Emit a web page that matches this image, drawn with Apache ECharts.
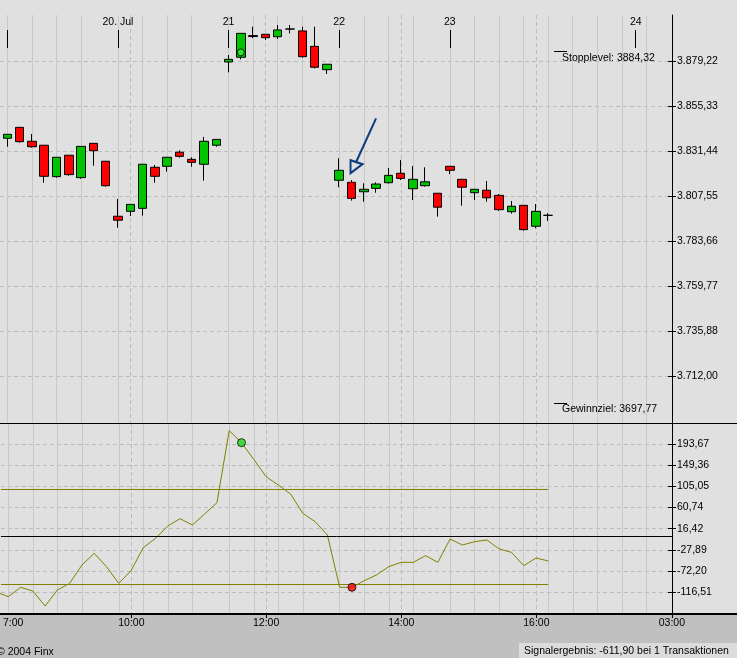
<!DOCTYPE html>
<html>
<head>
<meta charset="utf-8">
<script src="https://cdn.jsdelivr.net/npm/echarts@6/dist/echarts.min.js"></script>
<style>
html,body{margin:0;padding:0;background:#e0e0e0;}
#chart{width:737px;height:658px;}
</style>
</head>
<body>
<div id="chart"></div>
<script>
// ---- Candle slots (30-min bars, left to right) ----
const barSlots = [0,1,2,3,4,5,6,7,8,9,10,11,12,13,14,15,16,17,18,19,20,21,22,23,24,25,26,27,28,29,30,31,32,33,34,35,36,37,38,39,40,41,42,43,44];
const opens  = [3838.2,3844.0,3836.6,3834.5,3817.8,3829.2,3817.3,3835.5,3826.0,3796.8,3799.4,3801.0,3822.8,3823.3,3830.8,3827.0,3824.4,3834.5,3878.7,3881.2,3892.7,3893.4,3892.1,3896.2,3895.2,3887.0,3874.6,3815.9,3814.8,3809.8,3811.6,3814.6,3819.6,3811.4,3813.0,3809.0,3823.3,3816.4,3809.3,3810.6,3807.9,3799.2,3802.6,3791.5,3797.3];
const closes = [3840.3,3836.4,3833.7,3818.0,3828.1,3818.9,3833.9,3831.6,3813.0,3794.7,3803.1,3824.4,3818.0,3828.1,3828.6,3825.4,3836.6,3837.6,3880.1,3893.9,3892.2,3891.6,3895.7,3896.2,3881.5,3875.9,3877.5,3821.2,3806.3,3811.1,3813.9,3818.5,3816.9,3816.4,3815.1,3801.6,3821.2,3812.2,3811.1,3806.6,3800.3,3802.1,3789.7,3799.4,3797.3];
const lows   = [3833.7,3835.8,3833.2,3814.6,3817.3,3818.3,3816.7,3823.6,3812.5,3790.7,3796.9,3797.1,3814.6,3820.5,3827.9,3823.1,3815.7,3833.7,3873.2,3880.1,3891.3,3890.4,3890.9,3893.9,3881.0,3875.3,3872.3,3812.2,3805.1,3804.5,3809.3,3814.1,3816.0,3805.4,3812.5,3796.6,3819.2,3802.4,3805.4,3804.5,3799.6,3798.2,3789.1,3790.4,3794.3];
const highs  = [3840.3,3844.0,3840.5,3834.5,3828.1,3829.2,3833.9,3835.5,3826.0,3806.0,3803.1,3824.4,3824.0,3828.1,3831.8,3828.1,3838.9,3837.6,3882.4,3893.9,3897.4,3893.4,3898.3,3898.3,3897.4,3897.4,3877.5,3827.6,3816.0,3814.3,3814.8,3822.4,3826.7,3823.5,3822.8,3809.0,3823.3,3816.4,3811.1,3815.5,3808.6,3804.9,3802.6,3803.3,3798.4];

// ---- Indicator (lower panel) ----
const indSlots  = [-1,0,1,2,3,4,5,6,7,8,9,10,11,12,13,14,15,16,17,18,19,20,21,22,23,24,25,26,27,28,29,30,31,32,33,34,35,36,37,38,39,40,41,42,43,44];
const indValues = [-116,-125.6,-106.1,-113.8,-145.2,-111.7,-97.8,-59.4,-35.0,-62.9,-97.8,-71.3,-23.2,-3.6,22.2,37.5,24.3,47.3,71.0,221.6,196.5,161.6,125.3,107.9,89.1,48.7,31.2,3.3,-106.1,-106.1,-92.2,-80.3,-62.9,-53.8,-53.8,-39.9,-53.8,-5.0,-17.6,-10.6,-7.1,-25.9,-32.9,-60.8,-44.8,-51.0];
const indBands = [100, 0, -100];

// ---- Signals ----
const buySlot = 19, sellSlot = 28;
const buyPrice = 3883.8, sellPrice = 3813.0;
const buyInd = 196.5, sellInd = -106.1;

// ---- Levels ----
const stopLevel = 3884.32, stopLabel = 'Stopplevel: 3884,32';
const targetLevel = 3697.77, targetLabel = 'Gewinnziel: 3697,77';
const levelSlots = [44.48, 45.54];

// ---- Arrow annotation ----
const arrowFrom = [30.0, 3848.8], arrowTo = [28.35, 3825.2], arrowHead = [28.41, 3823.1];

// ---- Axes: ticks & labels ----
const xMin = -0.6, xMax = 54.08;
const dayTickSlots  = [0, 9, 18, 27, 36, 51.13];
const dayLabelSlots = [9, 18, 27, 36, 51.13];
const dayLabels     = ['20. Jul', '21', '22', '23', '24'];
const hourLineSlots = [0,2,4,6,9,11,13,15,18,20,22,24,27,29,31,33,36,38,40,42,44,46,48,50,52];
const twoHourSlots  = [10.03, 21.01, 32.02, 43.03, 54.08];
const timeLabelSlots = [0.4, 10.03, 21.01, 32.02, 43.03, 54.07];
const timeLabels     = ['7:00', '10:00', '12:00', '14:00', '16:00', '03:00'];

const priceMin = 3687.03, priceMax = 3903.64;
const priceTicks  = [3712.00, 3735.88, 3759.77, 3783.66, 3807.55, 3831.44, 3855.33, 3879.22];
const priceLabels = ['3.712,00','3.735,88','3.759,77','3.783,66','3.807,55','3.831,44','3.855,33','3.879,22'];
const indMin = -161.9, indMax = 237.6;
const indTicks  = [-116.51, -72.20, -27.89, 16.42, 60.74, 105.05, 149.36, 193.67];
const indLabels = ['-116,51','-72,20','-27,89','16,42','60,74','105,05','149,36','193,67'];

const footerLeft = '© 2004 Finx';
const footerRight = 'Signalergebnis: -611,90 bei 1 Transaktionen';

function lookup(slots, labels) {
  return function (v) {
    let best = 0;
    for (let k = 1; k < slots.length; k++) {
      if (Math.abs(slots[k] - v) < Math.abs(slots[best] - v)) best = k;
    }
    return labels[best];
  };
}

const FONT = "'Liberation Sans', Arial, sans-serif";
const FS = 10.5;
const SOLID_GRID = '#c8c8c8';
const DASH_GRID = '#bcbcbc';
const OLIVE = '#808000';
const ARROW = '#0b3c7d';

const chart = echarts.init(document.getElementById('chart'));

const candleData = barSlots.map((s, k) => [s, opens[k], closes[k], lows[k], highs[k]]);
const indData = indSlots.map((s, k) => [s, indValues[k]]);

function xBase(grid) {
  return { gridIndex: grid, type: 'value', min: xMin, max: xMax, axisLine: { show: false, onZero: false } };
}

const option = {
  backgroundColor: '#e0e0e0',
  animation: false,
  textStyle: { fontFamily: FONT },
  grid: [
    { left: 0, right: 65, top: 15, height: 408 },
    { left: 0, right: 65, top: 423, height: 191 }
  ],
  xAxis: [
    Object.assign(xBase(0), {
      position: 'top', offset: -15,
      axisTick: { show: true, inside: true, length: 18, customValues: dayTickSlots, lineStyle: { color: '#000', width: 1 } },
      axisLabel: { customValues: dayLabelSlots, formatter: lookup(dayLabelSlots, dayLabels), margin: 2, color: '#000', fontSize: FS, fontFamily: FONT },
      splitLine: { show: false }
    }),
    Object.assign(xBase(0), {
      position: 'bottom',
      axisTick: { show: false, customValues: hourLineSlots },
      axisLabel: { show: false },
      splitLine: { show: true, lineStyle: { color: SOLID_GRID, width: 1, type: 'solid' } }
    }),
    Object.assign(xBase(0), {
      position: 'bottom',
      axisTick: { show: false, customValues: twoHourSlots },
      axisLabel: { show: false },
      splitLine: { show: true, lineStyle: { color: DASH_GRID, width: 1, type: [4, 3] } }
    }),
    Object.assign(xBase(1), {
      position: 'bottom',
      axisTick: { show: true, length: 4, customValues: twoHourSlots, lineStyle: { color: '#000', width: 1 } },
      axisLabel: { customValues: timeLabelSlots, formatter: lookup(timeLabelSlots, timeLabels), margin: 4, color: '#000', fontSize: FS, fontFamily: FONT },
      splitLine: { show: true, lineStyle: { color: DASH_GRID, width: 1, type: [4, 3] } }
    }),
    Object.assign(xBase(1), {
      position: 'bottom',
      axisTick: { show: false, customValues: hourLineSlots },
      axisLabel: { show: false },
      splitLine: { show: true, lineStyle: { color: SOLID_GRID, width: 1, type: 'solid' } }
    })
  ],
  yAxis: [
    {
      gridIndex: 0, type: 'value', position: 'right', min: priceMin, max: priceMax,
      axisLine: { show: true, onZero: false, lineStyle: { color: '#000', width: 1 } },
      axisTick: { show: true, length: 4, customValues: priceTicks, lineStyle: { color: '#000' } },
      axisLabel: { customValues: priceTicks, formatter: lookup(priceTicks, priceLabels), margin: 5, color: '#000', fontSize: FS, fontFamily: FONT },
      splitLine: { show: true, lineStyle: { color: DASH_GRID, width: 1, type: [4, 3] } }
    },
    {
      gridIndex: 0, type: 'value', position: 'right', min: priceMin, max: priceMax,
      axisLine: { show: false, onZero: false },
      axisTick: { show: true, inside: true, length: 4, customValues: priceTicks, lineStyle: { color: '#000' } },
      axisLabel: { show: false }, splitLine: { show: false }
    },
    {
      gridIndex: 1, type: 'value', position: 'right', min: indMin, max: indMax,
      axisLine: { show: true, onZero: false, lineStyle: { color: '#000', width: 1 } },
      axisTick: { show: true, length: 4, customValues: indTicks, lineStyle: { color: '#000' } },
      axisLabel: { customValues: indTicks, formatter: lookup(indTicks, indLabels), margin: 5, color: '#000', fontSize: FS, fontFamily: FONT },
      splitLine: { show: true, lineStyle: { color: DASH_GRID, width: 1, type: [4, 3] } }
    },
    {
      gridIndex: 1, type: 'value', position: 'right', min: indMin, max: indMax,
      axisLine: { show: false, onZero: false },
      axisTick: { show: true, inside: true, length: 4, customValues: indTicks, lineStyle: { color: '#000' } },
      axisLabel: { show: false }, splitLine: { show: false }
    }
  ],
  series: [
    {
      type: 'candlestick', xAxisIndex: 0, yAxisIndex: 0,
      data: candleData, encode: { x: 0, y: [1, 2, 3, 4] },
      barWidth: 9,
      itemStyle: { color: '#00c400', color0: '#ff0000', borderColor: '#000', borderColor0: '#000', borderColorDoji: '#000', borderWidth: 1 },
      markLine: {
        silent: true, symbol: 'none', animation: false,
        data: [
          [{ coord: [levelSlots[0], stopLevel], lineStyle: { color: '#000', width: 1, type: 'solid' },
             label: { show: true, formatter: stopLabel, position: 'insideStartBottom', distance: [8, 1], color: '#000', fontSize: FS, fontFamily: FONT } },
           { coord: [levelSlots[1], stopLevel] }],
          [{ coord: [levelSlots[0], targetLevel], lineStyle: { color: '#000', width: 1, type: 'solid' },
             label: { show: true, formatter: targetLabel, position: 'insideStartBottom', distance: [8, 1], color: '#000', fontSize: FS, fontFamily: FONT } },
           { coord: [levelSlots[1], targetLevel] }],
          [{ coord: arrowFrom, lineStyle: { color: ARROW, width: 2, type: 'solid' }, label: { show: false } },
           { coord: arrowTo }]
        ]
      },
      markPoint: {
        silent: true, animation: false,
        data: [{
          coord: arrowHead,
          symbol: 'path://M0,0L0,13L12,4Z', symbolSize: [12, 13], symbolKeepAspect: false,
          itemStyle: { color: 'rgba(0,0,0,0)', borderColor: ARROW, borderWidth: 2 },
          label: { show: false }
        }]
      }
    },
    {
      type: 'scatter', xAxisIndex: 0, yAxisIndex: 0, symbolSize: 7, z: 5,
      data: [
        { value: [buySlot, buyPrice], itemStyle: { color: '#33ee33', borderColor: '#000', borderWidth: 1 } },
        { value: [sellSlot, sellPrice], itemStyle: { color: '#ff0000', borderColor: '#600', borderWidth: 1, borderType: [1, 1] } }
      ]
    },
    {
      type: 'line', xAxisIndex: 3, yAxisIndex: 2, data: indData,
      symbol: 'none', lineStyle: { color: OLIVE, width: 1 }, itemStyle: { color: OLIVE },
      markLine: {
        silent: true, symbol: 'none', animation: false, label: { show: false },
        data: [
          [{ coord: [xMin, indBands[0]], lineStyle: { color: OLIVE, width: 1, type: 'solid' } }, { coord: [barSlots[barSlots.length - 1], indBands[0]] }],
          [{ coord: [xMin, indBands[2]], lineStyle: { color: OLIVE, width: 1, type: 'solid' } }, { coord: [barSlots[barSlots.length - 1], indBands[2]] }],
          [{ coord: [xMin, indBands[1]], lineStyle: { color: '#000', width: 1, type: 'solid' } }, { coord: [xMax, indBands[1]] }]
        ]
      }
    },
    {
      type: 'scatter', xAxisIndex: 3, yAxisIndex: 2, symbolSize: 8, z: 5,
      data: [
        { value: [buySlot, buyInd], itemStyle: { color: '#22dd22', borderColor: '#000', borderWidth: 1 } },
        { value: [sellSlot, sellInd], itemStyle: { color: '#ff0000', borderColor: '#000', borderWidth: 1 } }
      ]
    }
  ],
  graphic: [
    { type: 'rect', z: -2, silent: true, shape: { x: 0, y: 615, width: 737, height: 43 }, style: { fill: '#c0c0c0' } },
    { type: 'rect', z: -1, silent: true, shape: { x: 519, y: 643, width: 218, height: 15 }, style: { fill: '#dcdcdc' } },
    { type: 'line', z: 10, silent: true, shape: { x1: 0, y1: 423.5, x2: 737, y2: 423.5 }, style: { stroke: '#000', lineWidth: 1 } },
    { type: 'line', z: 10, silent: true, shape: { x1: 0, y1: 614, x2: 737, y2: 614 }, style: { stroke: '#000', lineWidth: 2 } },
    { type: 'text', z: 10, silent: true, x: -3, y: 652, style: { text: footerLeft, fill: '#000', font: FS + 'px ' + FONT, textVerticalAlign: 'middle', verticalAlign: 'middle' } },
    { type: 'text', z: 10, silent: true, x: 524, y: 651, style: { text: footerRight, fill: '#000', font: FS + 'px ' + FONT, textVerticalAlign: 'middle', verticalAlign: 'middle' } }
  ]
};

chart.setOption(option);
</script>
</body>
</html>
